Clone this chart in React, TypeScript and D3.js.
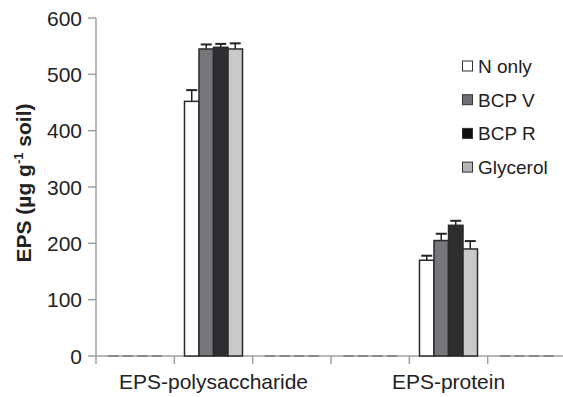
import * as d3 from 'd3';

const categories = ['', 'EPS-polysaccharide', '', '', 'EPS-protein', ''];
const series = ['N only', 'BCP V', 'BCP R', 'Glycerol'];
const colors = ['#ffffff', '#77777b', '#2e2e30', '#c9c9cb'];
const legendColors = ['#ffffff', '#6e6e72', '#0e0e0e', '#b4b4b6'];

// values per series, one per category
const nOnly = [0, 452, 0, 0, 170, 0];
const bcpV = [0, 545, 0, 0, 205, 0];
const bcpR = [0, 548, 0, 0, 232, 0];
const glycerol = [0, 545, 0, 0, 190, 0];
const nOnlyErr = [0, 20, 0, 0, 8, 0];
const bcpVErr = [0, 8, 0, 0, 12, 0];
const bcpRErr = [0, 6, 0, 0, 8, 0];
const glycerolErr = [0, 10, 0, 0, 14, 0];

const yTicks = [0, 100, 200, 300, 400, 500, 600];

const values = [nOnly, bcpV, bcpR, glycerol];
const errors = [nOnlyErr, bcpVErr, bcpRErr, glycerolErr];

export default function App() {
  const width = 563;
  const height = 397;
  const x0 = 96;
  const y0 = 356;

  const x = d3.scaleBand<number>()
    .domain(d3.range(categories.length))
    .range([x0, x0 + 470])
    .padding(0);

  const xs = d3.scaleBand<string>()
    .domain(series)
    .range([0, x.bandwidth()])
    .paddingInner(0)
    .paddingOuter(0.7);

  const y = d3.scaleLinear().domain([0, 600]).range([y0, 18]);

  const font = 'Liberation Sans, Arial, Helvetica, sans-serif';
  const axisColor = '#a0a0a0';

  return (
    <svg width={width} height={height} style={{ position: 'absolute', left: 0, top: 0 }} fontFamily={font}>
      <rect width={width} height={height} fill="#fff" />

      {/* y axis */}
      <line x1={x0} x2={x0} y1={y(600)} y2={y0} stroke={axisColor} strokeWidth={1.5} />
      {yTicks.map(t => (
        <g key={t}>
          <line x1={x0 - 8} x2={x0} y1={y(t)} y2={y(t)} stroke={axisColor} strokeWidth={1.5} />
          <text x={82} y={y(t)} dy="0.36em" textAnchor="end" fontSize={21} fill="#222">{t}</text>
        </g>
      ))}

      {/* x axis */}
      <line x1={x0} x2={width} y1={y0} y2={y0} stroke={axisColor} strokeWidth={1.5} />
      {d3.range(categories.length + 1).map(i => (
        <line key={i} x1={x0 + i * x.step()} x2={x0 + i * x.step()} y1={y0} y2={y0 + 8} stroke={axisColor} strokeWidth={1.5} />
      ))}
      {categories.map((c, i) => (
        <text key={i} x={x(i)! + x.bandwidth() / 2} y={389} textAnchor="middle" fontSize={21} fill="#222">{c}</text>
      ))}

      {/* bars */}
      {categories.map((_, i) => (
        <g key={i} transform={`translate(${x(i)},0)`}>
          {series.map((s, k) => {
            const v = values[k][i];
            const bx = xs(s)!;
            const bw = xs.bandwidth();
            if (v === 0) {
              return (
                <line key={s} x1={bx + 2} x2={bx + bw - 2} y1={y0} y2={y0} stroke="#8a8a8a" strokeWidth={2} />
              );
            }
            const top = y(v);
            const et = y(v + errors[k][i]);
            const cx = bx + bw / 2;
            return (
              <g key={s}>
                <line x1={cx} x2={cx} y1={top} y2={et} stroke="#222" strokeWidth={1.5} />
                <line x1={cx - 5.5} x2={cx + 5.5} y1={et} y2={et} stroke="#222" strokeWidth={2} />
                <rect x={bx} y={top} width={bw} height={y0 - top} fill={colors[k]} stroke="#2a2a2a" strokeWidth={1.5} />
              </g>
            );
          })}
        </g>
      ))}

      {/* legend */}
      {series.map((s, k) => {
        const cy = 66 + k * 33.7;
        return (
          <g key={s}>
            <rect x={462.5} y={cy - 5} width={10} height={10} fill={legendColors[k]} stroke="#333" strokeWidth={1} />
            <text x={478} y={cy} dy="0.36em" fontSize={19} fill="#222">{s}</text>
          </g>
        );
      })}

      {/* y title */}
      <text transform={`translate(31,${(y(600) + y0) / 2 - 4}) rotate(-90)`} textAnchor="middle" fontSize={21} fontWeight="bold" fill="#222">
        EPS (µg g<tspan dy={-8} fontSize={13}>-1</tspan><tspan dy={8}> soil)</tspan>
      </text>
    </svg>
  );
}
